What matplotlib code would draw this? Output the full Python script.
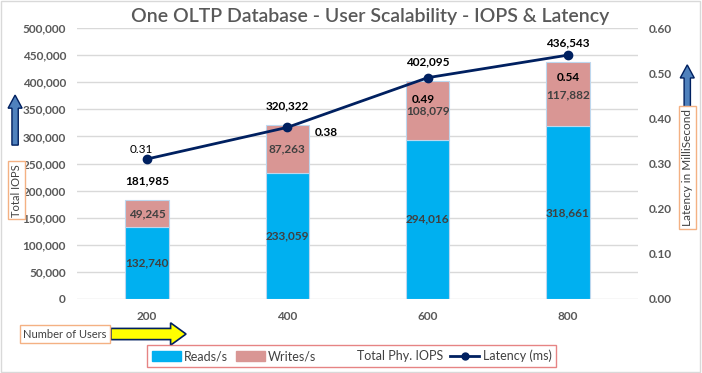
import matplotlib.pyplot as plt
from matplotlib.patches import FancyArrow, Rectangle
from matplotlib.lines import Line2D
from matplotlib.patches import Patch
import numpy as np

plt.rcParams['font.family'] = ['Lato', 'DejaVu Sans']

# Données
users = ['200', '400', '600', '800']
reads = [132740, 233059, 294016, 318661]
writes = [49245, 87263, 108079, 117882]
totals = [181985, 320322, 402095, 436543]
latency = [0.31, 0.38, 0.49, 0.54]

blue = '#00B0F0'
pink = '#D99694'
navy = '#002060'
gray = '#595959'
orange = '#F4B183'

fig = plt.figure(figsize=(7.02, 3.73), dpi=100)
ax = fig.add_axes([0.1097, 0.1984, 0.7991, 0.7265])
ax2 = ax.twinx()

x = np.arange(len(users))
w = 0.31
ax.bar(x, reads, w, color=blue, edgecolor='#BDD7EE', linewidth=0.8, zorder=2)
ax.bar(x, writes, w, bottom=reads, color=pink, edgecolor='#BDD7EE', linewidth=0.8, zorder=2)

# Étiquettes des barres
for i in range(len(users)):
    ax.text(x[i], reads[i] / 2, f'{reads[i]:,}', ha='center', va='center',
            fontsize=8.5, fontweight='bold', color='#404040', zorder=3)
    ax.text(x[i], reads[i] + writes[i] / 2, f'{writes[i]:,}', ha='center', va='center',
            fontsize=8.5, fontweight='bold', color='#404040', zorder=3)
    ax.annotate(f'{totals[i]:,}', (x[i], totals[i]), xytext=(0, 10), textcoords='offset points',
                ha='center', va='bottom', fontsize=8.5, fontweight='bold', color='black')

ax.set_xlim(-0.5, 3.5)
ax.set_ylim(0, 500000)
ax.set_yticks(range(0, 500001, 50000))
ax.set_yticklabels([f'{v:,}' for v in range(0, 500001, 50000)])
ax.set_xticks(x)
ax.set_xticklabels(users)
ax.grid(axis='y', color='#D9D9D9', linewidth=1, zorder=0)
ax.set_axisbelow(True)

# Latence
ax2.plot(x, latency, color=navy, linewidth=2, marker='o', markersize=6, zorder=4)
ax2.set_ylim(0, 0.6)
ax2.set_yticks(np.arange(0, 0.61, 0.1))
ax2.set_yticklabels([f'{v:.2f}' for v in np.arange(0, 0.61, 0.1)])
lat_off = [(-4, 3, 'center', 'bottom', 'normal'), (28, -4, 'center', 'center', 'bold'),
           (-3, -12, 'center', 'top', 'bold'), (0, -12, 'center', 'top', 'bold')]
for i, (dx, dy, ha, va, fw) in enumerate(lat_off):
    ax2.annotate(f'{latency[i]:.2f}', (x[i], latency[i]), xytext=(dx, dy), textcoords='offset points',
                 ha=ha, va=va, fontsize=8.5, fontweight=fw, color='black', zorder=5)

for a in (ax, ax2):
    for s in a.spines.values():
        s.set_visible(False)
    a.tick_params(length=0, labelsize=8.5, labelcolor=gray)
    for lbl in a.get_xticklabels() + a.get_yticklabels():
        lbl.set_fontweight('bold')
ax.tick_params(axis='y', pad=8)
ax.tick_params(axis='x', pad=9)
ax2.tick_params(axis='y', pad=8)

fig.text(0.527, 0.955, 'One OLTP Database - User Scalability - IOPS & Latency',
         ha='center', va='center', fontsize=14, fontweight='semibold', color=gray)

# Bordure du graphique
fig.patches.append(Rectangle((0.002, 0.003), 0.995, 0.993, transform=fig.transFigure,
                             fill=False, edgecolor='#D9D9D9', linewidth=1))

# Titres des axes avec flèches
fig.text(0.0235, 0.49, 'Total IOPS', rotation=90, ha='center', va='center', fontsize=8,
         color='#404040', bbox=dict(boxstyle='square,pad=0.25', fc='white', ec=orange, lw=1))
fig.patches.append(FancyArrow(0.0215, 0.611, 0, 0.134, width=0.009, head_width=0.02,
                              head_length=0.035, length_includes_head=True,
                              transform=fig.transFigure, fc='#4F81BD', ec=navy, lw=1))
fig.text(0.979, 0.55, 'Latency in MilliSecond', rotation=90, ha='center', va='center',
         fontsize=8.5, color='#404040',
         bbox=dict(boxstyle='square,pad=0.25', fc='white', ec=orange, lw=1))
fig.patches.append(FancyArrow(0.979, 0.705, 0, 0.121, width=0.009, head_width=0.02,
                              head_length=0.035, length_includes_head=True,
                              transform=fig.transFigure, fc='#4F81BD', ec=navy, lw=1))
fig.text(0.092, 0.1045, 'Number of Users', ha='center', va='center', fontsize=8, color='#404040',
         bbox=dict(boxstyle='square,pad=0.3', fc='white', ec=orange, lw=1))
fig.patches.append(FancyArrow(0.158, 0.1045, 0.085, 0, width=0.03, head_width=0.06,
                              head_length=0.022, transform=fig.transFigure,
                              fc='#FFFF00', ec=navy, lw=1.2))

# Légende
handles = [Patch(color=blue), Patch(color=pink), Patch(color='none'),
           Line2D([], [], color=navy, lw=2, marker='o', markersize=5)]
labels = ['Reads/s', 'Writes/s', 'Total Phy. IOPS', 'Latency (ms)']
leg = fig.legend(handles, labels, loc='center', bbox_to_anchor=(0.501, 0.0455), ncol=4,
                 fontsize=9, frameon=True, fancybox=False, edgecolor='#E06666',
                 handlelength=2.3, handleheight=0.8, columnspacing=0.6, handletextpad=0.3,
                 borderpad=0.35)
leg.get_frame().set_linewidth(1)
for t in leg.get_texts():
    t.set_color('#404040')

fig.savefig('out.png', dpi=100)
plt.close()
